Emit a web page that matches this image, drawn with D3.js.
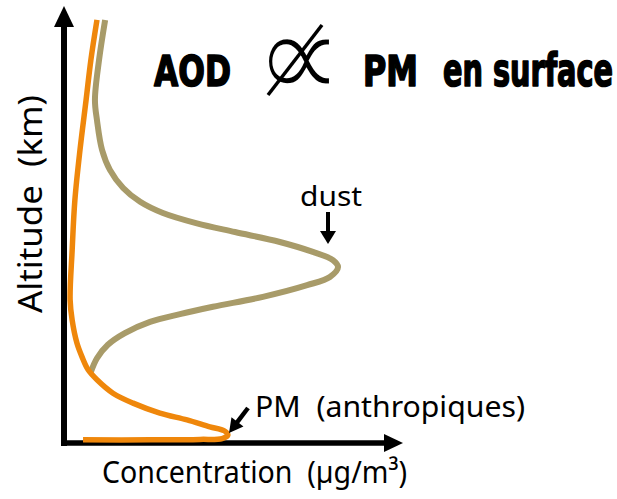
<!DOCTYPE html>
<html>
<head>
<meta charset="utf-8">
<script src="https://cdn.jsdelivr.net/npm/d3@7"></script>
<style>
  html, body { margin: 0; padding: 0; background: #fff; }
  svg { display: block; }
  text { white-space: pre; }
</style>
</head>
<body>
<svg id="chart" width="617" height="499"></svg>
<script>
// ---- Data (concentration and altitude in arbitrary units, 0..10) ----
const pmConc = [0.97, 0.79, 0.65, 0.47, 0.32, 0.24, 0.18, 0.24, 0.38, 0.53, 0.71, 0.97, 1.44, 2.03, 2.82, 3.62, 4.29, 4.71, 4.82, 4.65, 4.0, 2.53, 0.56];
const pmAlt  = [9.77, 8.84, 7.92, 6.76, 5.60, 4.44, 3.29, 2.82, 2.29, 1.97, 1.67, 1.44, 1.13, 0.90, 0.67, 0.51, 0.35, 0.26, 0.16, 0.08, 0.06, 0.05, 0.05];

const dustConc = [1.21, 1.03, 0.91, 0.97, 1.12, 1.35, 1.74, 2.24, 2.91, 3.91, 5.03, 6.35, 7.32, 7.91, 8.06, 7.82, 7.15, 5.85, 4.38, 3.41, 2.53, 1.79, 1.29, 0.97, 0.79];
const dustAlt  = [9.77, 8.84, 7.92, 7.45, 6.76, 6.30, 5.88, 5.56, 5.30, 5.06, 4.86, 4.63, 4.40, 4.21, 4.05, 3.82, 3.63, 3.36, 3.13, 2.96, 2.78, 2.52, 2.25, 1.94, 1.62];

const titleLeft = "AOD";
const titleRight = "PM";
const titleTail = "en surface";
const propSymbol = "\u221D";
const xLabel = "Concentration  (\u00B5g/m\u00B3)";
const yLabel = "Altitude  (km)";
const dustLabel = "dust";
const pmLabel = "PM  (anthropiques)";

// ---- Layout ----
const svg = d3.select("#chart");
const x = d3.scaleLinear().domain([0, 10]).range([64, 404]);
const y = d3.scaleLinear().domain([0, 10]).range([442, 10]);

const orange = "#ef870b";
const khaki = "#a89b69";

function arrow(g, x1, y1, x2, y2, headLen, headW, shaftW) {
  const dx = x2 - x1, dy = y2 - y1, L = Math.hypot(dx, dy);
  const ux = dx / L, uy = dy / L, px = -uy, py = ux;
  const bx = x2 - ux * headLen, by = y2 - uy * headLen;
  g.append("line").attr("x1", x1).attr("y1", y1).attr("x2", bx + ux).attr("y2", by + uy)
    .attr("stroke", "#000").attr("stroke-width", shaftW);
  g.append("path")
    .attr("d", `M${x2},${y2}L${bx + px * headW / 2},${by + py * headW / 2}L${bx - px * headW / 2},${by - py * headW / 2}Z`)
    .attr("fill", "#000");
}

// axes (no ticks)
const axes = svg.append("g");
const y0 = y(0) + 1;
arrow(axes, x(0), y0 + 3, x(0), 6, 21, 20, 6);
arrow(axes, x(0) - 3, y0, x(10) - 1, y0, 19, 18, 5.5);

// curves
const lineGen = d3.line()
  .x(d => x(d[0]))
  .y(d => y(d[1]))
  .curve(d3.curveCatmullRom.alpha(0.5));

svg.append("path")
  .datum(dustConc.map((c, i) => [c, dustAlt[i]]))
  .attr("d", lineGen)
  .attr("fill", "none")
  .attr("stroke", khaki)
  .attr("stroke-width", 6);

svg.append("path")
  .datum(pmConc.map((c, i) => [c, pmAlt[i]]))
  .attr("d", lineGen)
  .attr("fill", "none")
  .attr("stroke", orange)
  .attr("stroke-width", 5.5);

// title
const tf = "'Liberation Sans Narrow', 'DejaVu Sans Condensed', 'Arial Narrow', sans-serif";
function title(xp, size, len, txt) {
  svg.append("text").attr("x", xp).attr("y", 86).attr("font-family", tf).attr("font-weight", "bold")
    .attr("font-size", size).attr("textLength", len).attr("lengthAdjust", "spacingAndGlyphs")
    .attr("stroke", "#000").attr("stroke-width", 1.6).attr("stroke-linejoin", "round")
    .text(txt);
}
title(154, 43, 77, titleLeft);
title(363, 43, 55, titleRight);
title(443, 46, 170, titleTail);

svg.append("text").attr("x", 254).attr("y", 99).attr("font-family", "'DejaVu Sans', sans-serif")
  .attr("font-size", 126).attr("fill", "#000").attr("stroke", "#fff").attr("stroke-width", 3)
  .text(propSymbol);
svg.append("line").attr("x1", 268).attr("y1", 95).attr("x2", 322).attr("y2", 25)
  .attr("stroke", "#000").attr("stroke-width", 3.5);

// labels
const lf = "'Noto Sans', 'Open Sans', sans-serif";
svg.append("text").attr("x", 102).attr("y", 483).attr("font-family", lf).attr("font-size", 31)
  .attr("textLength", 305).attr("lengthAdjust", "spacingAndGlyphs").text(xLabel);
svg.append("text").attr("transform", "translate(42,313) rotate(-90)").attr("font-family", lf).attr("font-size", 33)
  .attr("textLength", 218).attr("lengthAdjust", "spacingAndGlyphs").text(yLabel);

svg.append("text").attr("x", 300).attr("y", 206).attr("font-family", lf).attr("font-size", 28)
  .attr("textLength", 62).attr("lengthAdjust", "spacingAndGlyphs").text(dustLabel);
arrow(svg.append("g"), 328, 212, 328, 244, 13, 16, 4);

svg.append("text").attr("x", 255).attr("y", 417).attr("font-family", lf).attr("font-size", 29)
  .attr("textLength", 270).attr("lengthAdjust", "spacingAndGlyphs").text(pmLabel);
arrow(svg.append("g"), 248, 408, 229, 433, 14, 15, 4.5);
</script>
</body>
</html>
